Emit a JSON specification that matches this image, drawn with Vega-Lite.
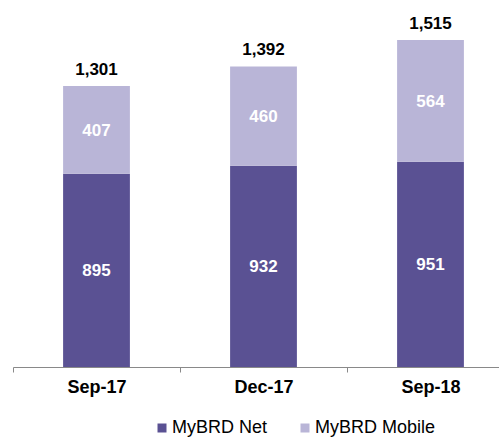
{
  "$schema": "https://vega.github.io/schema/vega-lite/v6.json",
  "width": 486,
  "height": 367,
  "autosize": {"type": "none"},
  "padding": {"left": 13, "top": 0, "right": 0, "bottom": 71},
  "config": {"view": {"stroke": null}, "font": "Liberation Sans"},
  "datasets": {
    "segments": [
      {"period": "Sep-17", "series": "MyBRD Net", "value": 895},
      {"period": "Sep-17", "series": "MyBRD Mobile", "value": 407},
      {"period": "Dec-17", "series": "MyBRD Net", "value": 932},
      {"period": "Dec-17", "series": "MyBRD Mobile", "value": 460},
      {"period": "Sep-18", "series": "MyBRD Net", "value": 951},
      {"period": "Sep-18", "series": "MyBRD Mobile", "value": 564}
    ],
    "totals": [
      {"period": "Sep-17", "total": 1301},
      {"period": "Dec-17", "total": 1392},
      {"period": "Sep-18", "total": 1515}
    ]
  },
  "layer": [
    {
      "data": {"name": "segments"},
      "mark": {"type": "bar", "width": {"band": 0.4}},
      "encoding": {
        "x": {
          "field": "period", "type": "nominal", "sort": ["Sep-17", "Dec-17", "Sep-18"],
          "scale": {"paddingInner": 0, "paddingOuter": 0, "range": [0, 501]},
          "axis": {
            "title": null, "labelAngle": 0, "tickBand": "extent",
            "domainColor": "#898989", "tickColor": "#898989", "tickSize": 5,
            "labelFont": "Liberation Sans", "labelFontSize": 18, "labelFontWeight": "bold",
            "labelColor": "#000000", "labelPadding": 6
          }
        },
        "y": {"field": "value", "type": "quantitative", "stack": "zero", "scale": {"domain": [0, 1700]}, "axis": null},
        "color": {
          "field": "series", "type": "nominal",
          "scale": {"domain": ["MyBRD Net", "MyBRD Mobile"], "range": ["#5a5193", "#b9b5d7"]},
          "legend": {
            "orient": "none", "legendX": 140, "legendY": 419, "direction": "horizontal",
            "title": null, "symbolType": "square", "symbolSize": 81, "symbolStrokeWidth": 0,
            "labelFont": "Liberation Sans", "labelFontSize": 18, "labelColor": "#000000",
            "columnPadding": 28, "labelOffset": 1
          }
        },
        "order": {"field": "series", "sort": "descending"}
      }
    },
    {
      "data": {"name": "segments"},
      "mark": {"type": "text", "color": "#ffffff", "fontSize": 17, "fontWeight": "bold", "baseline": "middle", "dy": 1, "font": "Liberation Sans"},
      "encoding": {
        "x": {"field": "period", "type": "nominal", "sort": ["Sep-17", "Dec-17", "Sep-18"]},
        "y": {"field": "value", "type": "quantitative", "stack": "zero", "bandPosition": 0.5, "scale": {"domain": [0, 1700]}},
        "text": {"field": "value", "type": "quantitative"},
        "order": {"field": "series", "sort": "descending"}
      }
    },
    {
      "data": {"name": "totals"},
      "mark": {"type": "text", "color": "#000000", "fontSize": 17, "fontWeight": "bold", "baseline": "alphabetic", "dy": -11, "font": "Liberation Sans"},
      "encoding": {
        "x": {"field": "period", "type": "nominal", "sort": ["Sep-17", "Dec-17", "Sep-18"]},
        "y": {"field": "total", "type": "quantitative", "scale": {"domain": [0, 1700]}},
        "text": {"field": "total", "type": "quantitative", "format": ","}
      }
    }
  ]
}
